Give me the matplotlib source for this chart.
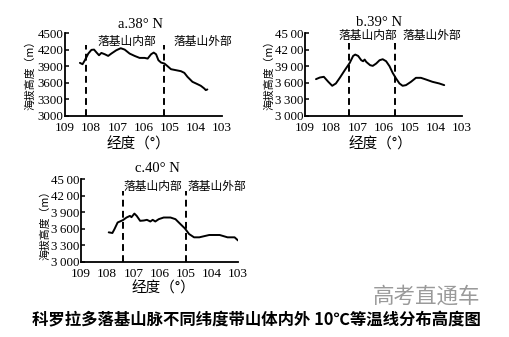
import matplotlib
matplotlib.use("Agg")
import matplotlib.pyplot as plt

plt.rcParams['font.family'] = ['Liberation Serif', 'Noto Sans CJK SC', 'DejaVu Sans']
CJK = ['Noto Sans CJK SC', 'DejaVu Sans']
SERIF = ['Liberation Serif', 'DejaVu Serif', 'Noto Sans CJK SC']

# ---------------- data ----------------
lon_a = [108.43, 108.33, 108.24, 108.11, 107.99, 107.89, 107.80, 107.70, 107.61, 107.48,
         107.35, 107.23, 107.04, 106.87, 106.72, 106.53, 106.34, 106.15, 105.96, 105.84,
         105.71, 105.61, 105.52, 105.43, 105.33, 105.20, 105.08, 104.95, 104.76, 104.57,
         104.44, 104.32, 104.13, 103.94, 103.81, 103.68, 103.62, 103.56]
alt_a = [3960, 3936, 4008, 4128, 4195, 4200, 4150, 4098, 4140, 4116,
         4086, 4128, 4188, 4225, 4200, 4128, 4086, 4050, 4050, 4038,
         4116, 4146, 4116, 4008, 3966, 3948, 3900, 3846, 3828, 3810,
         3780, 3708, 3618, 3576, 3546, 3498, 3468, 3480]

lon_b = [108.58, 108.43, 108.28, 108.11, 107.96, 107.82, 107.67, 107.48, 107.29, 107.16,
         107.08, 106.97, 106.85, 106.78, 106.72, 106.66, 106.51, 106.41, 106.28, 106.15,
         106.03, 105.90, 105.77, 105.65, 105.52, 105.39, 105.27, 105.14, 104.95, 104.76,
         104.57, 104.38, 104.13, 103.87, 103.68]
alt_b = [3666, 3696, 3708, 3618, 3546, 3588, 3690, 3828, 3960, 4086,
         4110, 4086, 4008, 3990, 4020, 3978, 3918, 3906, 3948, 4008,
         4026, 3990, 3900, 3780, 3678, 3588, 3546, 3558, 3618, 3690,
         3690, 3660, 3618, 3588, 3558]

lon_c = [107.94, 107.80, 107.72, 107.60, 107.40, 107.26, 107.13, 107.07, 106.96, 106.87,
         106.74, 106.60, 106.48, 106.35, 106.26, 106.16, 106.03, 105.84, 105.58, 105.39,
         105.20, 105.03, 104.87, 104.68, 104.48, 104.10, 103.70, 103.40, 103.13, 103.00]
alt_c = [3536, 3524, 3595, 3714, 3756, 3804, 3833, 3810, 3875, 3833,
         3744, 3750, 3762, 3732, 3762, 3732, 3774, 3804, 3804, 3774,
         3685, 3607, 3506, 3446, 3446, 3488, 3488, 3446, 3446, 3390]

divides_a = [108.2, 105.2]
divides_b = [107.3, 105.55]
divides_c = [107.4, 105.0]

xticks = [109, 108, 107, 106, 105, 104, 103]
yticks = [3000, 3300, 3600, 3900, 4200, 4500]
ylabels_a = ['3000', '3300', '3600', '3900', '4200', '4500']
ylabels_b = ['3\u2009000', '3\u2009300', '3\u2009600', '39\u200900', '42\u200900', '45\u200900']
ylabels_c = ['3\u2009000', '3\u2009300', '3\u2009600', '3\u2009900', '42\u200900', '45\u200900']

titles = ['a.38° N', 'b.39° N', 'c.40° N']
inner = '落基山内部'
outer = '落基山外部'
xlab = '经度（°）'
ylab = '海拔高度（m）'
main_title = '科罗拉多落基山脉不同纬度带山体内外 10℃等温线分布高度图'
watermark = '高考直通车'

# ---------------- layout ----------------
W, H = 509, 337
fig = plt.figure(figsize=(W / 100, H / 100), dpi=100)
fig.patch.set_facecolor('white')


def fx(x):
    return x / W


def fy(y):
    return 1 - y / H


def make_panel(left, right, top, bottom, lon, alt, divides, ylabels, title,
               title_xy, inner_xy, outer_xy, xlab_xy, ylab_xy, dash_top):
    ax = fig.add_axes([fx(left), fy(bottom), (right - left) / W, (bottom - top) / H])
    ax.plot(lon, alt, color='black', lw=1.4, solid_capstyle='round',
            solid_joinstyle='round')
    for d in divides:
        ax.plot([d, d], [3000, dash_top], color='black', lw=1.4,
                linestyle=(0, (3.5, 2.2)))
    ax.set_xlim(109, 103)
    ax.set_ylim(3000, 4500)
    ax.set_xticks(xticks)
    ax.set_xticklabels([str(t) for t in xticks], fontsize=9.6, family=SERIF)
    ax.set_yticks(yticks)
    ax.set_yticklabels(ylabels, fontsize=9.3, family=SERIF)
    ax.tick_params(axis='x', length=0, pad=4)
    ax.tick_params(axis='y', direction='in', length=3, width=1.1, pad=1.2)
    for s in ['top', 'right']:
        ax.spines[s].set_visible(False)
    for s in ['left', 'bottom']:
        ax.spines[s].set_linewidth(1.3)
    ax.patch.set_alpha(0)
    fig.text(fx(title_xy[0]), fy(title_xy[1]), title, ha='center', va='center',
             fontsize=10.5, family=SERIF)
    fig.text(fx(inner_xy[0]), fy(inner_xy[1]), inner, ha='center', va='center',
             fontsize=8.5, family=CJK, fontweight='medium')
    fig.text(fx(outer_xy[0]), fy(outer_xy[1]), outer, ha='center', va='center',
             fontsize=8.5, family=CJK, fontweight='medium')
    fig.text(fx(xlab_xy[0]), fy(xlab_xy[1]), xlab, ha='center', va='center',
             fontsize=10.5, family=CJK)
    fig.text(fx(ylab_xy[0]), fy(ylab_xy[1]), ylab, ha='center', va='center',
             fontsize=7.8, family=CJK, rotation=90, fontweight='medium')
    return ax


make_panel(65, 222, 33, 116, lon_a, alt_a, divides_a, ylabels_a, titles[0],
           (140, 25), (127, 42), (203, 42), (138, 144), (30, 72), 4280)
make_panel(305, 462, 33, 116, lon_b, alt_b, divides_b, ylabels_b, titles[1],
           (379, 23), (368, 35), (432, 35), (380, 144), (269, 72), 4320)
make_panel(81, 238, 179, 262, lon_c, alt_c, divides_c, ylabels_c, titles[2],
           (157, 169), (153, 187), (217, 187), (163, 289), (45, 222), 4280)

fig.text(fx(426), fy(297), watermark, ha='center', va='center', fontsize=15.5,
         family=CJK, color='#9a9a9a', fontweight='light')
fig.text(fx(256), fy(320), main_title, ha='center', va='center', fontsize=11.8,
         family=CJK, fontweight='bold')

fig.savefig('out.png', dpi=100, facecolor='white')
